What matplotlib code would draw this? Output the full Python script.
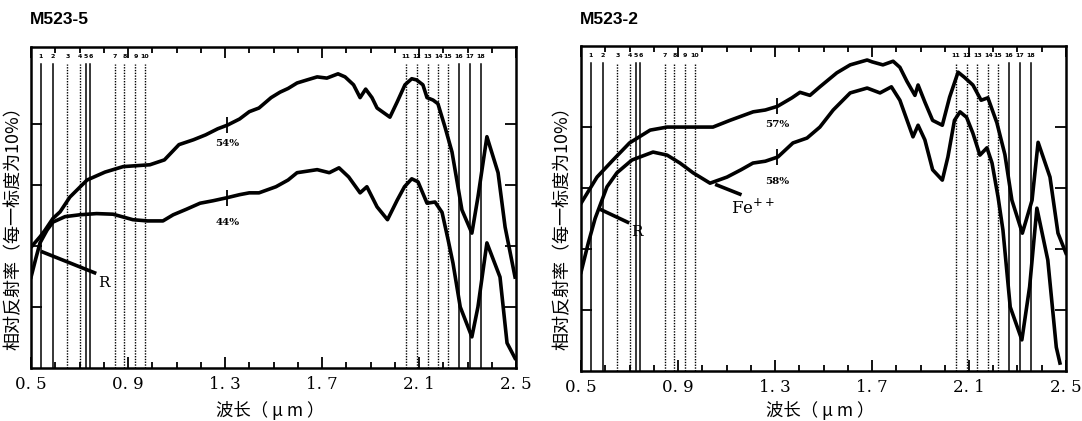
import numpy as np
import matplotlib
matplotlib.use("Agg")
import matplotlib.pyplot as plt

plt.rcParams['font.family'] = ['Noto Sans CJK SC', 'DejaVu Sans']

# wavelength (um) and relative reflectance (1 unit = 10 %)
m5_hi_wl = [0.5, 0.537, 0.558, 0.59, 0.62, 0.66, 0.731, 0.805, 0.88, 0.99, 1.05, 1.11,
            1.17, 1.22, 1.27, 1.31, 1.36, 1.40, 1.44, 1.49, 1.527, 1.56, 1.597, 1.638,
            1.68, 1.72, 1.766, 1.795, 1.83, 1.857, 1.88, 1.906, 1.927, 1.98, 2.01, 2.042,
            2.07, 2.09, 2.116, 2.133, 2.158, 2.178, 2.207, 2.236, 2.277, 2.318, 2.343,
            2.38, 2.426, 2.455, 2.496]
m5_hi = [1.98, 2.15, 2.26, 2.45, 2.56, 2.8, 3.08, 3.21, 3.30, 3.33, 3.41, 3.66,
         3.74, 3.82, 3.92, 3.98, 4.08, 4.20, 4.26, 4.43, 4.52, 4.58, 4.67, 4.72,
         4.77, 4.75, 4.82, 4.77, 4.64, 4.43, 4.57, 4.43, 4.26, 4.11, 4.36, 4.64,
         4.74, 4.72, 4.64, 4.43, 4.39, 4.33, 3.95, 3.54, 2.59, 2.21, 2.80,
         3.79, 3.20, 2.31, 1.49]

m5_lo_wl = [0.5, 0.52, 0.537, 0.566, 0.59, 0.64, 0.70, 0.77, 0.838, 0.92, 0.98, 1.044,
            1.086, 1.14, 1.197, 1.25, 1.308, 1.36, 1.40, 1.44, 1.51, 1.56, 1.597, 1.68,
            1.73, 1.77, 1.81, 1.857, 1.885, 1.927, 1.97, 2.01, 2.04, 2.07, 2.096, 2.133,
            2.166, 2.195, 2.22, 2.24, 2.27, 2.318, 2.343, 2.38, 2.434, 2.463, 2.496]
m5_lo = [1.49, 1.8, 2.05, 2.26, 2.39, 2.48, 2.51, 2.53, 2.52, 2.43, 2.41, 2.41,
         2.51, 2.60, 2.70, 2.74, 2.79, 2.84, 2.87, 2.87, 2.97, 3.08, 3.20, 3.25,
         3.20, 3.28, 3.13, 2.87, 2.97, 2.64, 2.43, 2.75, 2.97, 3.10, 3.05, 2.70,
         2.72, 2.55, 2.10, 1.72, 1.0, 0.51, 1.0, 2.05, 1.49, 0.41, 0.16]

m2_hi_wl = [0.5, 0.566, 0.632, 0.70, 0.785, 0.855, 1.044, 1.114, 1.21, 1.26, 1.31, 1.37,
            1.403, 1.444, 1.485, 1.555, 1.61, 1.68, 1.70, 1.745, 1.787, 1.815, 1.844,
            1.877, 1.89, 1.918, 1.95, 1.99, 2.02, 2.055, 2.08, 2.116, 2.15, 2.178, 2.215,
            2.248, 2.277, 2.32, 2.36, 2.385, 2.434, 2.467, 2.5]
m2_hi = [2.75, 3.18, 3.46, 3.74, 3.95, 4.0, 4.0, 4.11, 4.25, 4.28, 4.34, 4.48,
         4.57, 4.52, 4.66, 4.89, 5.02, 5.10, 5.07, 5.02, 5.08, 4.98, 4.75,
         4.52, 4.69, 4.41, 4.11, 4.03, 4.49, 4.90, 4.82, 4.69, 4.44, 4.48, 4.07,
         3.55, 2.80, 2.26, 2.80, 3.75, 3.18, 2.26, 1.93]

m2_lo_wl = [0.5, 0.53, 0.558, 0.607, 0.648, 0.71, 0.797, 0.855, 0.908, 0.962, 1.032, 1.102,
            1.16, 1.209, 1.26, 1.312, 1.374, 1.432, 1.485, 1.54, 1.61, 1.68, 1.733, 1.78,
            1.815, 1.869, 1.89, 1.918, 1.95, 1.99, 2.013, 2.04, 2.063, 2.09, 2.116, 2.145,
            2.174, 2.195, 2.22, 2.24, 2.27, 2.318, 2.35, 2.38, 2.425, 2.46, 2.475]
m2_lo = [1.62, 2.1, 2.5, 3.02, 3.25, 3.46, 3.59, 3.54, 3.41, 3.25, 3.08, 3.18,
         3.30, 3.41, 3.44, 3.51, 3.74, 3.82, 4.0, 4.28, 4.56, 4.64, 4.56, 4.66,
         4.44, 3.84, 4.03, 3.79, 3.30, 3.13, 3.51, 4.11, 4.25, 4.16, 3.90, 3.54,
         3.66, 3.41, 2.85, 2.31, 1.05, 0.51, 1.38, 2.67, 1.82, 0.39, 0.13]

# band positions 1-18, True = solid line
band_wl = [0.54, 0.59, 0.65, 0.70, 0.725, 0.745, 0.845, 0.885, 0.93, 0.97,
           2.045, 2.09, 2.135, 2.18, 2.22, 2.265, 2.31, 2.355]
band_solid = [True, True, False, False, True, True, False, False, False, False,
              False, False, False, False, False, True, True, True]
band_names = [str(i) for i in range(1, 19)]

xtick_pos = [0.5, 0.9, 1.3, 1.7, 2.1, 2.5]
xtick_labels = ['0. 5', '0. 9', '1. 3', '1. 7', '2. 1', '2. 5']
ytick_pos = [1, 2, 3, 4]


def draw_panel(ax, ymax, hi_wl, hi, lo_wl, lo, hi_txt, lo_txt):
    for x, solid in zip(band_wl, band_solid):
        if solid:
            ax.plot([x, x], [0, ymax - 0.28], color='black', lw=1.1)
        else:
            ax.plot([x, x], [0, ymax - 0.28], color='black', lw=1.0, ls=(0, (1, 1)))
    for x, name in zip(band_wl, band_names):
        ax.text(x, ymax - 0.16, name, fontsize=4.5, fontweight='bold',
                ha='center', va='center', family='DejaVu Sans')

    ax.plot(hi_wl, hi, color='black', lw=2.6, solid_joinstyle='round')
    ax.plot(lo_wl, lo, color='black', lw=2.6, solid_joinstyle='round')
    # small cross marks at 1.31 um
    ax.plot([1.31], [np.interp(1.31, hi_wl, hi)], marker='|', ms=11, mew=1.3, color='black')
    ax.plot([1.31], [np.interp(1.31, lo_wl, lo)], marker='|', ms=11, mew=1.3, color='black')
    ax.text(1.31, np.interp(1.31, hi_wl, hi) - 0.3, hi_txt, fontsize=7.5, fontweight='bold',
            ha='center', va='center', family='DejaVu Serif')
    ax.text(1.31, np.interp(1.31, lo_wl, lo) - 0.4, lo_txt, fontsize=7.5, fontweight='bold',
            ha='center', va='center', family='DejaVu Serif')

    ax.set_xlim(0.5, 2.5)
    ax.set_ylim(0, ymax)
    ax.set_xticks(xtick_pos)
    ax.set_xticklabels(xtick_labels, family='DejaVu Serif', fontsize=12)
    ax.set_xticks(np.arange(0.5, 2.51, 0.1), minor=True)
    ax.set_yticks(ytick_pos)
    ax.set_yticklabels([])
    ax.tick_params(which='major', direction='in', top=True, right=True,
                   length=8, width=1.3, pad=6)
    ax.tick_params(which='minor', direction='in', top=True, length=4, width=1.3)
    for sp in ax.spines.values():
        sp.set_linewidth(1.8)


fig = plt.figure(figsize=(10.82, 4.21), dpi=100)
ax1 = fig.add_axes([0.0287, 0.1259, 0.4482, 0.7625])
ax2 = fig.add_axes([0.537, 0.1188, 0.4482, 0.7720])

draw_panel(ax1, 5.26, m5_hi_wl, m5_hi, m5_lo_wl, m5_lo, '54%', '44%')
draw_panel(ax2, 5.33, m2_hi_wl, m2_hi, m2_lo_wl, m2_lo, '57%', '58%')

# R pointers and Fe++ absorption
ax1.plot([0.548, 0.762], [1.90, 1.56], color='black', lw=2.6)
ax1.text(0.80, 1.39, 'R', fontsize=11, family='DejaVu Serif', ha='center', va='center')
ax2.plot([0.585, 0.692], [2.64, 2.44], color='black', lw=2.6)
ax2.text(0.73, 2.28, 'R', fontsize=11, family='DejaVu Serif', ha='center', va='center')
ax2.plot([1.06, 1.155], [3.05, 2.90], color='black', lw=2.6)
ax2.text(1.21, 2.68, 'Fe$^{++}$', fontsize=12, family='DejaVu Serif', ha='center', va='center')

fig.text(30 / 1082, 1 - 20 / 421, 'M523-5', fontsize=12.5, fontweight='bold',
         family='Liberation Sans', ha='left', va='center')
fig.text(580 / 1082, 1 - 20 / 421, 'M523-2', fontsize=12.5, fontweight='bold',
         family='Liberation Sans', ha='left', va='center')

ylab = '相对反射率（每一标度为10%）'
fig.text(14 / 1082, 0.47, ylab, rotation=90, fontsize=13, ha='center', va='center')
fig.text(563 / 1082, 0.47, ylab, rotation=90, fontsize=13, ha='center', va='center')
xlab = '波长（ μ m ）'
fig.text(0.25, 0.026, xlab, fontsize=12.5, ha='center', va='center')
fig.text(0.758, 0.026, xlab, fontsize=12.5, ha='center', va='center')

fig.savefig('out.png', dpi=100)
